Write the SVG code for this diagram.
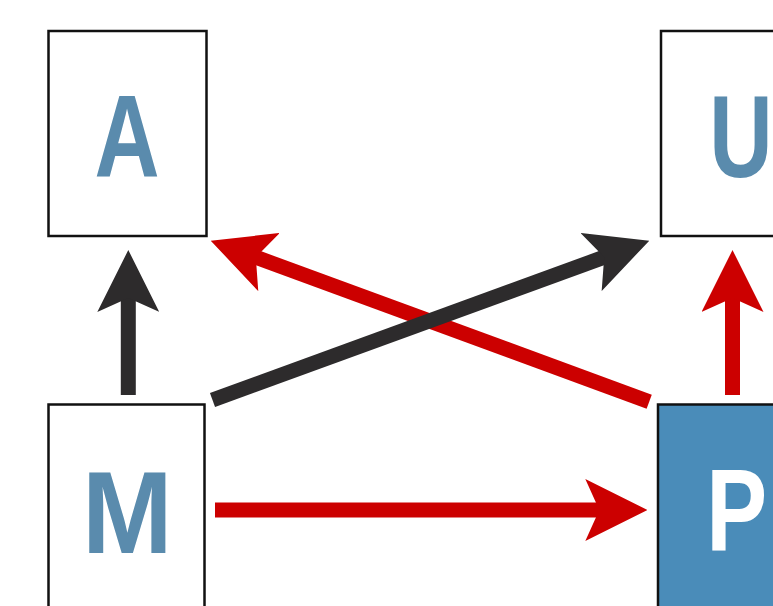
<svg xmlns="http://www.w3.org/2000/svg" width="773" height="606" viewBox="0 0 773 606">
  <style>
    .box { fill: #ffffff; stroke: #111111; stroke-width: 2.5; }
    .box.hl { fill: #4a8cb9; }
    .lbl { font-family: "Liberation Sans", Arial, sans-serif; font-weight: bold; font-size: 117px; fill: #5a8bad; }
    .lbl.inv { fill: #ffffff; }
    .red { stroke: #cc0000; stroke-width: 15; fill: none; }
    .dark { stroke: #2d2b2c; stroke-width: 15; fill: none; }
  </style>
  <defs>
    <marker id="head-red" markerUnits="userSpaceOnUse" markerWidth="62" markerHeight="62" viewBox="0 -31 62 62" refX="22" refY="0" orient="auto">
      <path d="M62 0 L0 -31 L14 0 L0 31 Z" fill="#cc0000"/>
    </marker>
    <marker id="head-dark" markerUnits="userSpaceOnUse" markerWidth="62" markerHeight="62" viewBox="0 -31 62 62" refX="22" refY="0" orient="auto">
      <path d="M62 0 L0 -31 L14 0 L0 31 Z" fill="#2d2b2c"/>
    </marker>
  </defs>
  <rect width="773" height="606" fill="#ffffff"/>

  <g id="node-A">
    <rect class="box" x="48.5" y="31" width="158" height="205"/>
    <text class="lbl" text-anchor="middle" transform="translate(127 177) scale(0.77 1)">A</text>
  </g>
  <g id="node-U">
    <rect class="box" x="661" y="31" width="158" height="205"/>
    <text class="lbl" text-anchor="middle" transform="translate(741 177) scale(0.75 1)">U</text>
  </g>
  <g id="node-M">
    <rect class="box" x="48.5" y="404.5" width="156" height="230"/>
    <text class="lbl" text-anchor="middle" transform="translate(127.2 553) scale(0.93 1)">M</text>
  </g>
  <g id="node-P">
    <rect class="box hl" x="658" y="404.5" width="158" height="230"/>
    <text class="lbl inv" transform="translate(706.3 549.5) scale(0.78 1)">P</text>
  </g>

  <g id="connectors">
    <line class="dark" x1="128.3" y1="395" x2="128.3" y2="290" marker-end="url(#head-dark)"/>
    <line class="red" x1="215" y1="510" x2="607.3" y2="510" marker-end="url(#head-red)"/>
    <line class="red" x1="732.5" y1="395" x2="732.5" y2="290" marker-end="url(#head-red)"/>
    <line class="red" x1="649.2" y1="401.7" x2="248.3" y2="254.5" marker-end="url(#head-red)"/>
    <line class="dark" x1="212.5" y1="400" x2="611.7" y2="254.4" marker-end="url(#head-dark)"/>
  </g>
</svg>
